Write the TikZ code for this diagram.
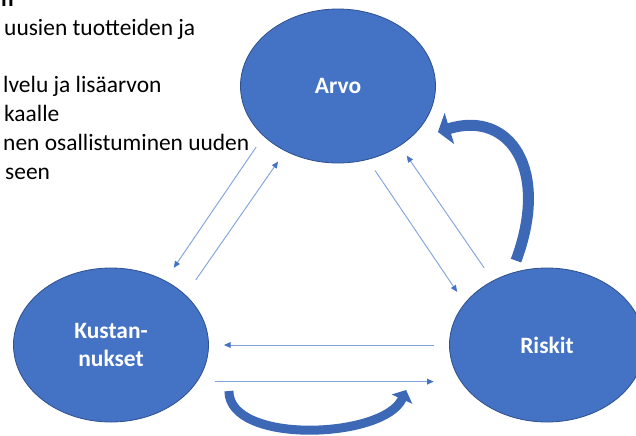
\documentclass[tikz,border=0pt]{standalone}
\usepackage{fontspec}
\setmainfont{Carlito}
\usepackage{tikz}
\usetikzlibrary{shapes.geometric}
\usetikzlibrary{arrows.meta}

\definecolor{nodeblue}{HTML}{4472C4}
\definecolor{rimblue}{HTML}{2F528F}
\definecolor{linkblue}{HTML}{82A3DC}
\definecolor{bendblue}{HTML}{3D68B5}

\begin{document}
\begin{tikzpicture}[x=0.03cm, y=-0.03cm,
		topic/.style={ellipse, draw=rimblue, line width=0.7pt, fill=nodeblue, text=white,
			minimum width=5.85cm, minimum height=4.62cm, inner sep=0pt,
			font=\fontsize{20}{23.9}\selectfont\bfseries, align=center},
		link/.style={linkblue, line width=0.8pt, -{Triangle[length=0.2cm, width=0.17cm, color=nodeblue]}},
		bigbend/.style={bendblue, line width=0.33cm, -{Triangle[length=0.36cm, width=0.96cm]}},
		smallbend/.style={bendblue, line width=0.27cm, -{Triangle[length=0.3cm, width=0.66cm]}},
		textline/.style={anchor=base west, inner sep=0pt, font=\fontsize{20}{24}\selectfont}]
				\useasboundingbox (0,0) rectangle (636,435);
				\clip (0,0) rectangle (636,435);
				
				% left text, cut off by the frame
				\node[textline, font=\fontsize{20}{24}\selectfont\bfseries] (t0) at (1,6) {n};
				\node[textline] (t1) at (4,35) {uusien tuotteiden ja};
				\node[textline] (t2) at (3,92) {lvelu ja lisäarvon};
				\node[textline] (t3) at (4,121) {kaalle};
				\node[textline] (t4) at (3,150) {nen osallistuminen uuden};
				\node[textline] (t5) at (5,179) {seen};
				
				\node[topic] (A) at (338,86) {Arvo};
				\node[topic] (K) at (111,345) {Kustan-\\nukset};
				\node[topic] (R) at (547,345) {Riskit};
				
				\draw[link, shorten <=0.39cm, shorten >=0.46cm]  (A.214) -- (K.50);
				\draw[link, shorten <=0.54cm, shorten >=0.375cm]  (K.34) -- (A.231);
				\draw[link, shorten <=0.39cm, shorten >=0.405cm]  (A.292) -- (R.153);
				\draw[link, shorten <=0.46cm, shorten >=0.355cm]  (R.130) -- (A.316);
				\draw[link, shorten <=0.45cm, shorten >=0.45cm]  (R.180) -- (K.0);
				\draw[link, shorten <=0.54cm, shorten >=0.81cm]  (K.-23.5) -- (R.203.5);
				
				% curved block arrows
				\draw[bigbend]  ([shift={(-31,-7)}]R.north) .. controls +(34,-91) and +(72,-22) .. ([shift={(2,46)}]A.east);
				\draw[smallbend]  ([shift={(20,46)}]K.east) .. controls +(0,54) and +(-22,49) .. ([shift={(-43,45)}]R.west);
			\end{tikzpicture}
\end{document}
